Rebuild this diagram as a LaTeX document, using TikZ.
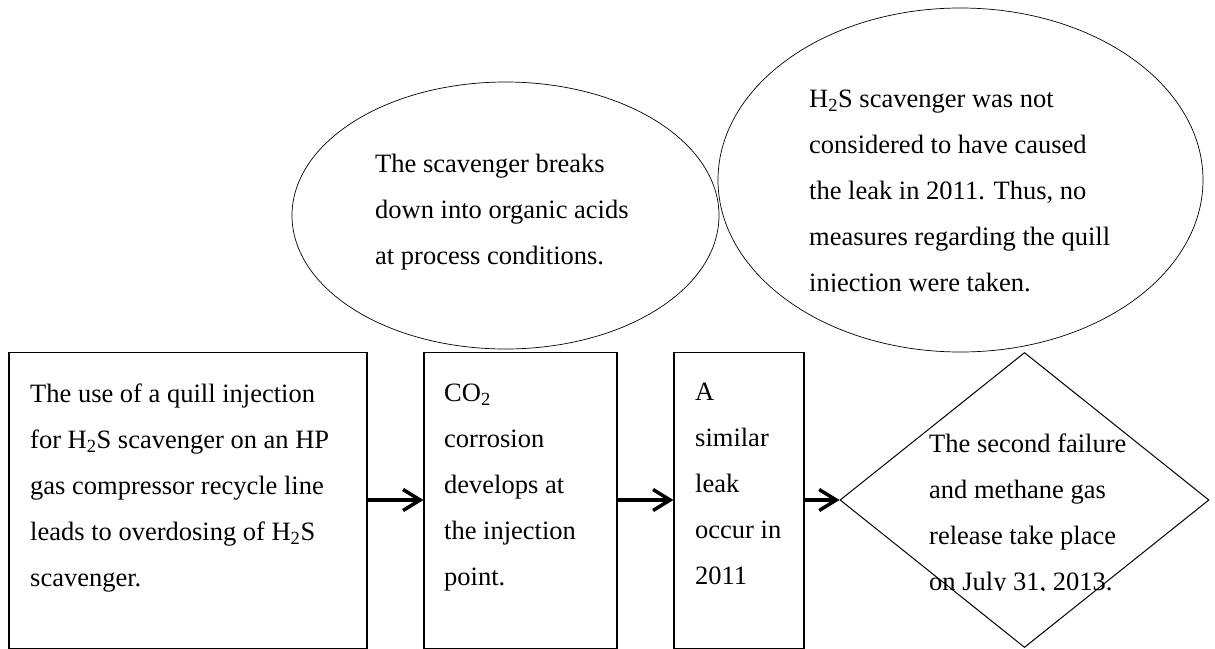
\documentclass[tikz,border=0pt]{standalone}
\usepackage{fontspec}
\setmainfont{Liberation Serif}
\usetikzlibrary{shapes.geometric,arrows.meta}
\begin{document}
\begin{tikzpicture}[x=1pt,y=-1pt,
  txt/.style={anchor=north west,inner sep=0pt,align=left,
    font=\fontsize{26.5}{46}\selectfont},
  stepbox/.style={draw,line width=1.2pt,rectangle,inner sep=0pt},
  bubble/.style={draw,line width=0.7pt,ellipse,inner sep=0pt},
  flow/.style={line width=3.5pt,-{Straight Barb[length=17pt,width=21pt,line width=3.5pt]}}]
\useasboundingbox (0,0) rectangle (1215,648);
\clip (0,0) rectangle (1215,648);

% process boxes
\node[stepbox,minimum width=358pt,minimum height=296pt] (b1) at (188,500.5) {};
\node[stepbox,minimum width=193pt,minimum height=296pt] (b2) at (520.5,500.5) {};
\node[stepbox,minimum width=130pt,minimum height=296pt] (b3) at (739,500.5) {};
% outcome
\node[draw,line width=1pt,diamond,inner sep=0pt,minimum width=369pt,minimum height=295pt] (d) at (1024.5,500) {};

% remarks
\node[bubble,minimum width=427pt,minimum height=267pt] (e1) at (505.5,215.5) {};
\node[bubble,minimum width=485pt,minimum height=344pt] (e2) at (960.5,180) {};

% texts
\node[txt] (t1) at (30,384) {The use of a quill injection\\for H\textsubscript{2}S scavenger on an HP\\gas compressor recycle line\\leads to overdosing of H\textsubscript{2}S\\scavenger.};
\node[txt] (t2) at (444,384) {CO\textsubscript{2}\\corrosion\\develops at\\the injection\\point.};
\node[txt] (t3) at (695,383) {A\\similar\\leak\\occur in\\2011};
\node[txt] (t5) at (375,154) {The scavenger breaks\\down into organic acids\\at process conditions.};
\begin{scope}
  \clip (700,0) rectangle (1215,291);
  \node[txt] (t6) at (809,90) {H\textsubscript{2}S scavenger was not\\considered to have caused\\the leak in 2011. Thus, no\\measures regarding the quill\\injection were taken.};
\end{scope}
\begin{scope}
  \clip (900,400) rectangle (1215,590);
  \node[txt] (t4) at (929,434) {The second failure\\and methane gas\\release take place\\on July 31, 2013.};
\end{scope}

% flow arrows
\draw[flow] (b1.east |- d.west) -- (b2.west |- d.west);
\draw[flow] (b2.east |- d.west) -- (b3.west |- d.west);
\draw[flow] (b3.east |- d.west) -- (d.west);
\end{tikzpicture}
\end{document}
